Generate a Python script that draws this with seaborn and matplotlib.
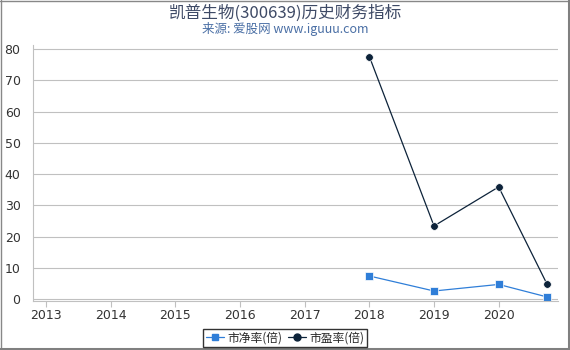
import matplotlib
matplotlib.use("Agg")
import matplotlib.pyplot as plt
import matplotlib.dates as mdates
from matplotlib.lines import Line2D
import seaborn as sns
import pandas as pd

dates = ["2018-01-01", "2019-01-01", "2020-01-01", "2020-09-30"]
pb = [7.4, 2.6, 4.7, 0.7]
pe = [77.6, 23.4, 35.9, 4.8]
series_names = ["市净率(倍)", "市盈率(倍)"]
title = "凯普生物(300639)历史财务指标"
subtitle = "来源: 爱股网 www.iguuu.com"

sns.set_style("white")
plt.rcParams['font.family'] = ['DejaVu Sans', 'Noto Sans CJK SC']

df = pd.DataFrame({"date": pd.to_datetime(dates), series_names[0]: pb, series_names[1]: pe})
long = df.melt(id_vars="date", var_name="series", value_name="value")

fig = plt.figure(figsize=(5.7, 3.5), dpi=100)
ax = fig.add_axes([33/570, 1-301/350, (558-33)/570, (301-45)/350])

colors = {series_names[0]: "#2f7ed8", series_names[1]: "#0d233a"}
markers = {series_names[0]: "s", series_names[1]: "o"}
sns.lineplot(data=long, x="date", y="value", hue="series", style="series",
             palette=colors, markers=markers, dashes=False, ax=ax,
             linewidth=0.9, markersize=5.5, markeredgewidth=0.5, legend=False)

ax.set_ylim(-0.6, 81.3)
ax.set_yticks(range(0, 81, 10))
ax.set_xlim(pd.Timestamp("2012-10-20"), pd.Timestamp("2020-12-01"))
ax.xaxis.set_major_locator(mdates.YearLocator())
ax.xaxis.set_major_formatter(mdates.DateFormatter("%Y"))
ax.grid(axis="y", color="#c0c0c0", linewidth=0.8)
ax.set_xlabel("")
ax.set_ylabel("")
for s in ["top", "right"]:
    ax.spines[s].set_visible(False)
ax.spines["left"].set_color("#c0c0c0")
ax.spines["bottom"].set_color("#c0c0c0")
ax.spines["left"].set_linewidth(0.8)
ax.spines["bottom"].set_linewidth(0.8)
ax.tick_params(axis="x", colors="#c0c0c0", labelcolor="#333333", labelsize=9, length=4, width=0.8, bottom=True, pad=2)
ax.tick_params(axis="y", colors="#c0c0c0", labelcolor="#333333", labelsize=9, length=0, pad=9)
for lbl in ax.get_xticklabels() + ax.get_yticklabels():
    lbl.set_family(['DejaVu Sans'])

fig.text(0.5, 1-13/350, title, ha="center", va="center", fontsize=12, color="#3e4a66",
         family=['Noto Sans CJK SC', 'DejaVu Sans'])
fig.text(0.5, 1-29/350, subtitle, ha="center", va="center", fontsize=9, color="#4a6fa5",
         family=['Noto Sans CJK SC', 'DejaVu Sans'])

handles = [Line2D([], [], color=colors[n], marker=markers[n], markersize=5, linewidth=0.9) for n in series_names]
leg = fig.legend(handles, series_names, loc="center", bbox_to_anchor=(285/570, 1-338/350),
                 ncol=2, frameon=True, handlelength=1.5, handletextpad=0.3,
                 columnspacing=0.5, borderpad=0.25, fancybox=False,
                 prop={'family': ['Noto Sans CJK SC', 'DejaVu Sans'], 'size': 8.5})
leg.get_frame().set_edgecolor("black")
leg.get_frame().set_linewidth(1.0)

# figure border: thin top/left, thicker right/bottom
tf = fig.transFigure
fig.add_artist(Line2D([0, 1], [1 - 0.5/350, 1 - 0.5/350], transform=tf, color="#888888", linewidth=1.0))
fig.add_artist(Line2D([0.5/570, 0.5/570], [0, 1], transform=tf, color="#888888", linewidth=1.0))
fig.add_artist(Line2D([1 - 1.5/570, 1 - 1.5/570], [0, 1], transform=tf, color="#808080", linewidth=2.2))
fig.add_artist(Line2D([0, 1], [1.5/350, 1.5/350], transform=tf, color="#808080", linewidth=2.2))

fig.savefig("out.png", dpi=100)
